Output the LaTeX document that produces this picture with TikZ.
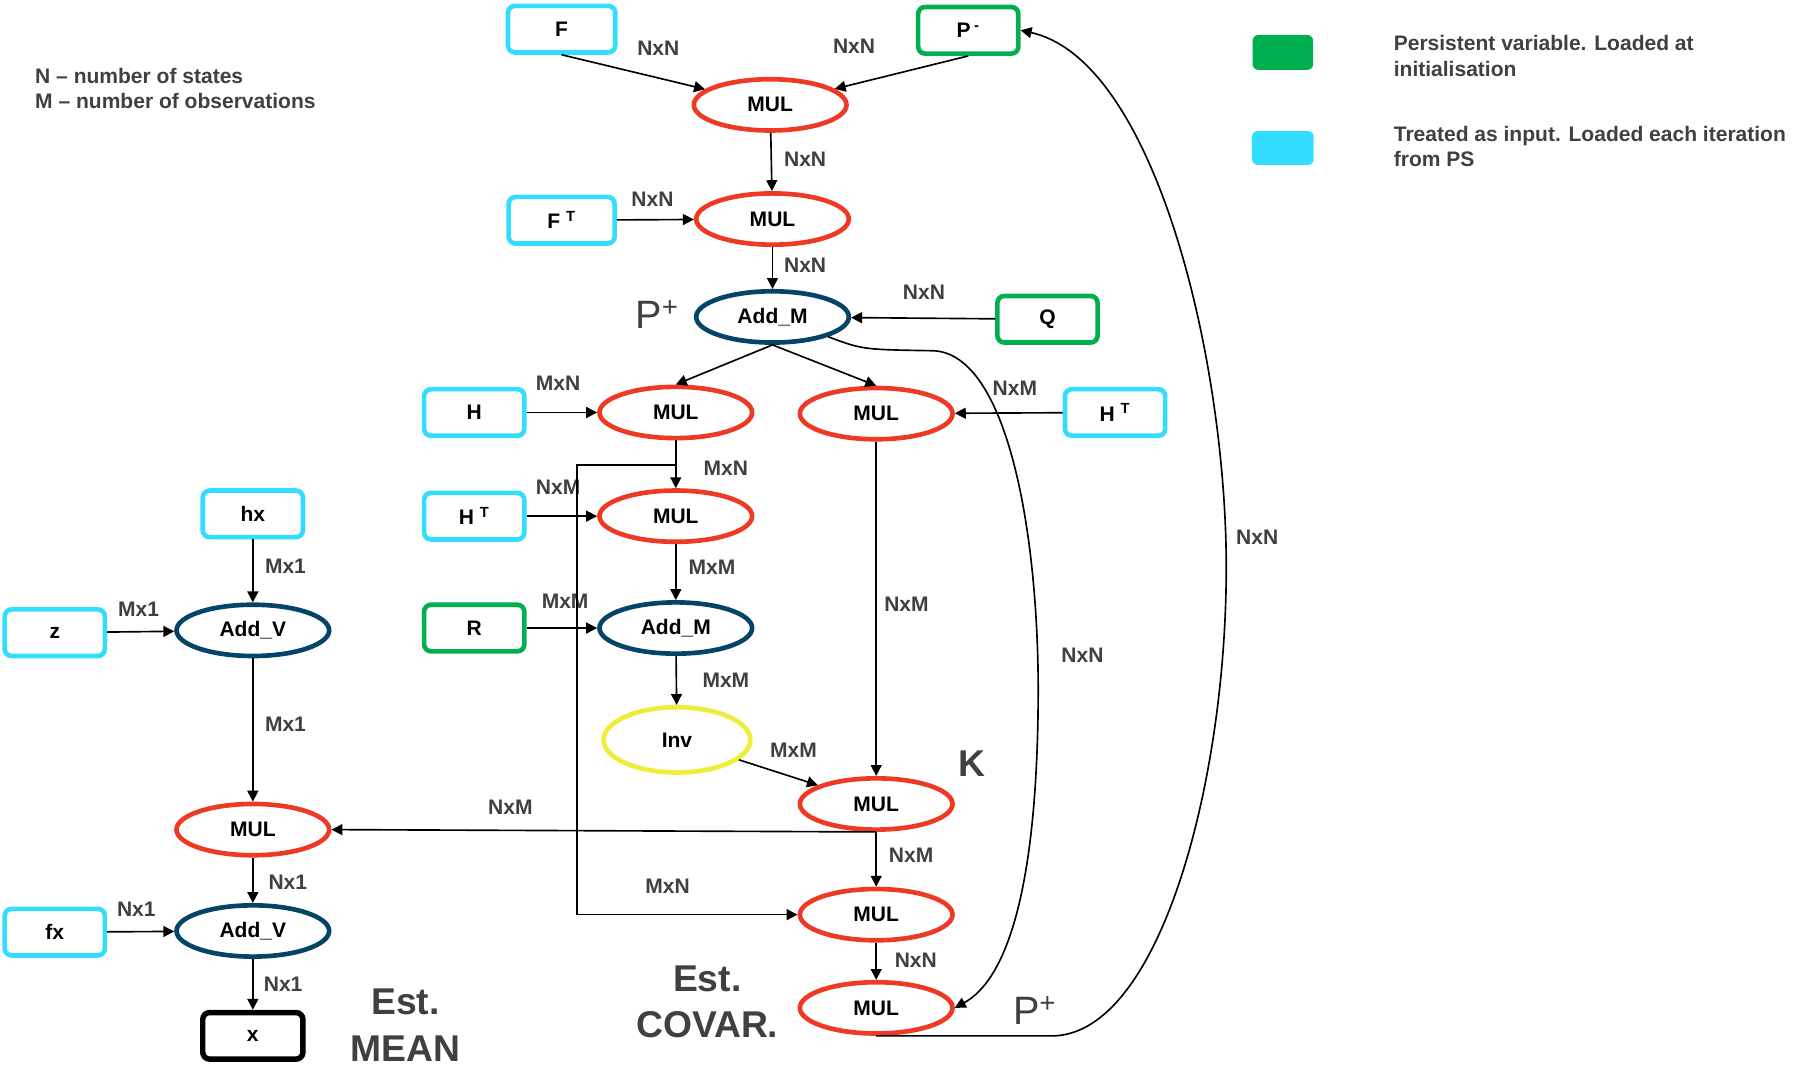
\documentclass[tikz,border=0pt]{standalone}
\usepackage{fontspec}
\setmainfont{Liberation Sans}
\usetikzlibrary{shapes.geometric}
\usetikzlibrary{arrows.meta}

\definecolor{incyan}{RGB}{51,221,255}
\definecolor{pergreen}{RGB}{0,176,80}
\definecolor{opred}{RGB}{238,58,36}
\definecolor{opblue}{RGB}{4,68,104}
\definecolor{opyellow}{RGB}{238,238,58}
\definecolor{labgray}{RGB}{64,64,64}

\begin{document}
\begin{tikzpicture}[x=0.3mm,y=-0.3mm,
    font=\fontsize{15.4}{18.5}\selectfont\bfseries,
    >={Triangle[length=8pt,width=8pt]},
    flow/.style={->,line width=1.2pt},
    inbox/.style={rectangle,rounded corners=1.8mm,draw=incyan,line width=3.4pt,minimum width=25.8mm,minimum height=12mm},
    perbox/.style={inbox,draw=pergreen},
    outbox/.style={inbox,draw=black,line width=4pt},
    mulop/.style={ellipse,draw=opred,line width=3.4pt,minimum width=39.3mm,minimum height=13.2mm,inner sep=0pt},
    addop/.style={mulop,draw=opblue},
    invop/.style={mulop,draw=opyellow,minimum width=37.8mm,minimum height=16.8mm},
    lab/.style={text=labgray,inner sep=0pt},
    big/.style={text=labgray,inner sep=0pt,align=center,font=\fontsize{27.3}{34}\selectfont\bfseries},
    sym/.style={text=labgray,inner sep=0pt,font=\fontsize{29}{34}\selectfont}]

            %\draw [help lines] (0,0) grid (1550,929);
            \useasboundingbox (0,0) rectangle (1550,929);

            % covariance chain
            \path   (482,25)  node (f)  [inbox,minimum width=27.6mm] {F}
                    (831,26)  node (pm) [perbox] {P\,\textsuperscript{-}}
                    (661,90)  node (m1) [mulop] {MUL}
                    (482,189) node (ft) [inbox,minimum width=27.3mm] {F \textsuperscript{T}}
                    (663,188) node (m2) [mulop] {MUL}
                    (663,272) node (pa) [addop] {Add\_M}
                    (899,274) node (q)  [perbox] {Q}
                    (407,354) node (h)  [inbox] {H}
                    (580,354) node (m3) [mulop] {MUL}
                    (752,355) node (m4) [mulop] {MUL}
                    (957,354) node (ht) [inbox] {H \textsuperscript{T}}
                    (407,443) node (hl) [inbox] {H \textsuperscript{T}}
                    (580,443) node (m5) [mulop] {MUL}
                    (407,539) node (r)  [perbox] {R}
                    (580,539) node (am) [addop] {Add\_M}
                    (581,635) node (iv) [invop] {Inv}
                    (752,690) node (mk) [mulop] {MUL}
                    (752,785) node (m6) [mulop] {MUL}
                    (752,865) node (m7) [mulop] {MUL};

            % mean chain
            \path   (217,441) node (hx) [inbox] {hx}
                    (47,543)  node (z)  [inbox] {z}
                    (217,541) node (v1) [addop] {Add\_V}
                    (217,712) node (ml) [mulop] {MUL}
                    (47,800)  node (fx) [inbox] {fx}
                    (217,799) node (v2) [addop] {Add\_V}
                    (217,889) node (x)  [outbox] {x};

            % legend and titles
            \path   (30,76)    node (notes) [lab,anchor=west,align=left] {N – number of states\\M – number of observations}
                    (1101,45)  node (kg) [fill=pergreen,rounded corners=1.5mm,minimum width=15.6mm,minimum height=9mm] {}
                    (1196,48)  node (tg) [lab,anchor=west,align=left] {Persistent variable. Loaded at\\initialisation}
                    (1101,127) node (kc) [fill=incyan,rounded corners=1.5mm,minimum width=15.9mm,minimum height=8.7mm] {}
                    (1196,126) node (tc) [lab,anchor=west,align=left] {Treated as input. Loaded each iteration\\from PS}
                    (348,880)  node (em) [big] {Est.\\MEAN}
                    (607,860)  node (ec) [big] {Est.\\COVAR.}
                    (564,270)  node (p1) [sym] {P\textsuperscript{+}}
                    (888,867)  node (p2) [sym] {P\textsuperscript{+}}
                    (834,655)  node (kk) [big] {K};

            % sizes on the connectors
            \path   (565,41)  node (s1)  [lab] {NxN}
                    (733,40)  node (s2)  [lab] {NxN}
                    (691,137) node (s3)  [lab] {NxN}
                    (560,171) node (s4)  [lab] {NxN}
                    (691,228) node (s5)  [lab] {NxN}
                    (793,251) node (s6)  [lab] {NxN}
                    (479,329) node (s7)  [lab] {MxN}
                    (871,333) node (s8)  [lab] {NxM}
                    (623,402) node (s9)  [lab] {MxN}
                    (479,418) node (s10) [lab] {NxM}
                    (611,487) node (s11) [lab] {MxM}
                    (485,516) node (s12) [lab] {MxM}
                    (623,584) node (s13) [lab] {MxM}
                    (681,644) node (s14) [lab] {MxM}
                    (778,519) node (s15) [lab] {NxM}
                    (438,693) node (s16) [lab] {NxM}
                    (782,734) node (s17) [lab] {NxM}
                    (573,761) node (s18) [lab] {MxN}
                    (786,824) node (s19) [lab] {NxN}
                    (929,562) node (s20) [lab] {NxN}
                    (1079,461) node (s21) [lab] {NxN}
                    (245,486) node (s22) [lab] {Mx1}
                    (119,523) node (s23) [lab] {Mx1}
                    (245,622) node (s24) [lab] {Mx1}
                    (247,757) node (s25) [lab] {Nx1}
                    (117,780) node (s26) [lab] {Nx1}
                    (243,845) node (s27) [lab] {Nx1};

            \coordinate (tap) at (580,399);

            \draw[flow] (node cs: name =f, anchor =south) -- (node cs:name =m1);
            \draw[flow] (node cs: name =pm, anchor =south) -- (node cs:name =m1);
            \draw[flow] (node cs: name =m1 ) -- (node cs:name =m2);
            \draw[flow] (node cs: name =ft ) -- (node cs:name =m2);
            \draw[flow] (node cs: name =m2 ) -- (node cs:name =pa);
            \draw[flow] (node cs: name =q ) -- (node cs:name =pa);
            \draw[flow] (node cs: name =pa, anchor =south) -- (node cs:name =m3, anchor =north);
            \draw[flow] (node cs: name =pa, anchor =south) -- (node cs:name =m4, anchor =north);
            \draw[flow] (node cs: name =h ) -- (node cs:name =m3);
            \draw[flow] (node cs: name =ht ) -- (node cs:name =m4);
            \draw[flow] (node cs: name =m3 ) -- (node cs:name =m5);
            \draw[flow] (node cs: name =tap ) -- ++(-85,0) |- (node cs:name =m6, anchor =west);
            \draw[flow] (node cs: name =hl ) -- (node cs:name =m5);
            \draw[flow] (node cs: name =m5 ) -- (node cs:name =am);
            \draw[flow] (node cs: name =r ) -- (node cs:name =am);
            \draw[flow] (node cs: name =am ) -- (node cs:name =iv);
            \draw[flow] (node cs: name =iv ) -- (node cs:name =mk);
            \draw[flow] (node cs: name =m4 ) -- (node cs:name =mk);
            \draw[flow] (node cs: name =mk ) -- (node cs:name =m6);
            \draw[flow] (node cs: name =mk, anchor =south) -- (node cs:name =ml, anchor =east);
            \draw[flow] (node cs: name =m6 ) -- (node cs:name =m7);
            \draw[flow] (node cs: name =pa, anchor =south east) .. controls (740,300) .. (800,301)
                        .. controls (865,302) and (892,460) .. (891,600)
                        .. controls (890,760) and (865,840) .. (node cs:name =m7, anchor =east);
            \draw[flow] (node cs: name =m7, anchor =south) -- (905,889)
                        .. controls (1000,885) and (1058,650) .. (1052,460)
                        .. controls (1046,280) and (985,50) .. (node cs:name =pm, anchor =east);

            \draw[flow] (node cs: name =hx ) -- (node cs:name =v1);
            \draw[flow] (node cs: name =z ) -- (node cs:name =v1);
            \draw[flow] (node cs: name =v1 ) -- (node cs:name =ml);
            \draw[flow] (node cs: name =ml ) -- (node cs:name =v2);
            \draw[flow] (node cs: name =fx ) -- (node cs:name =v2);
            \draw[flow] (node cs: name =v2 ) -- (node cs:name =x);
        \end{tikzpicture}
\end{document}
